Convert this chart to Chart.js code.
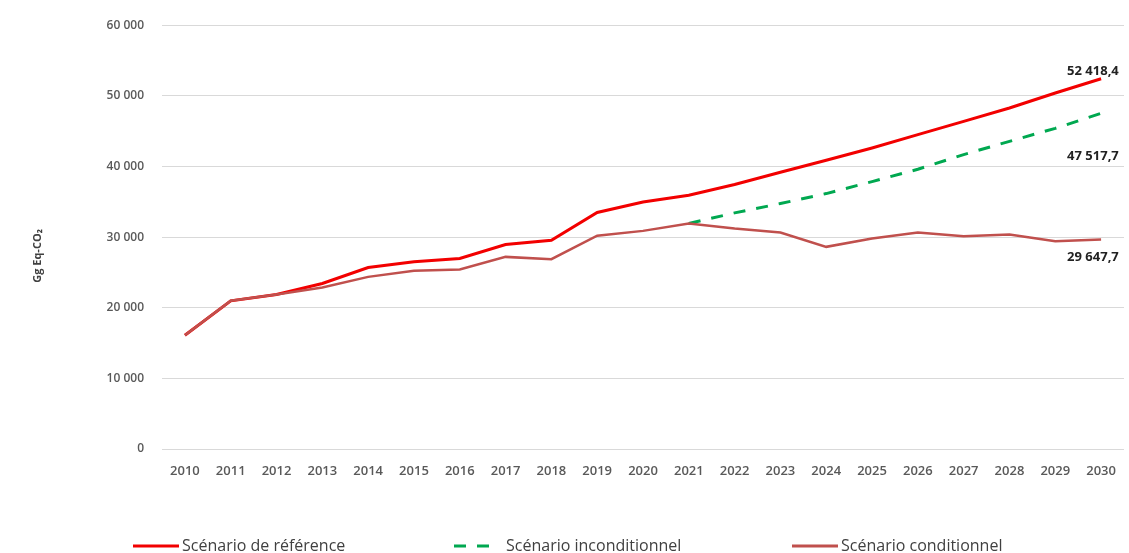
<!DOCTYPE html>
<html>
<head>
<meta charset="utf-8">
<script src="https://cdn.jsdelivr.net/npm/chart.js@4/dist/chart.umd.min.js"></script>
<style>
  html, body { margin: 0; padding: 0; background: #fff; }
  canvas { display: block; }
</style>
</head>
<body>
<canvas id="myChart" width="1129" height="553"></canvas>
<script>
const years = ['2010','2011','2012','2013','2014','2015','2016','2017','2018','2019','2020',
               '2021','2022','2023','2024','2025','2026','2027','2028','2029','2030'];

const reference = [16100, 20980, 21880, 23440, 25700, 26500, 26970, 28950, 29560, 33480, 34980,
                   35930, 37440, 39180, 40880, 42620, 44510, 46390, 48280, 50400, 52418.4];

const unconditional = [null, null, null, null, null, null, null, null, null, null, null,
                       31920, 33430, 34750, 36160, 37860, 39600, 41680, 43560, 45400, 47517.7];

const conditional = [16100, 20980, 21880, 22870, 24370, 25220, 25420, 27200, 26870, 30200, 30880,
                     31920, 31210, 30650, 28620, 29800, 30650, 30130, 30370, 29420, 29647.7];

const seriesNames = ['Scénario de référence', 'Scénario inconditionnel', 'Scénario conditionnel'];
const yTitle = 'Gg Eq-CO\u2082';

function fmtThousands(v) {
    return String(Math.round(v)).replace(/\B(?=(\d{3})+(?!\d))/g, ' ');
}
function fmtValue(v) {
    const parts = v.toFixed(1).split('.');
    return fmtThousands(Number(parts[0])) + ',' + parts[1];
}

// legend, end labels and axis title drawn on the canvas
const extras = {
    id: 'extras',
    afterDraw(chart) {
        const ctx = chart.ctx;
        ctx.save();

        // y axis title
        ctx.translate(38, 256);
        ctx.rotate(-Math.PI / 2);
        ctx.font = 'bold 11px "Open Sans"';
        ctx.fillStyle = '#404040';
        ctx.textAlign = 'center';
        ctx.textBaseline = 'middle';
        ctx.fillText(yTitle, 0, 0);
        ctx.setTransform(1, 0, 0, 1, 0, 0);

        // value labels at the last year
        const offsets = [-7, 43, 18];
        ctx.font = 'bold 13px "Open Sans"';
        ctx.fillStyle = '#222';
        ctx.textAlign = 'left';
        chart.data.datasets.forEach((ds, i) => {
            const meta = chart.getDatasetMeta(i);
            const last = meta.data[meta.data.length - 1];
            const v = ds.data[ds.data.length - 1];
            ctx.fillText(fmtValue(v), last.x - 34, last.y + offsets[i]);
        });

        // legend
        const legendX = [133, 454, 792];
        const legendY = 546;
        ctx.font = '16px "Open Sans"';
        ctx.textBaseline = 'middle';
        chart.data.datasets.forEach((ds, i) => {
            const x = legendX[i];
            ctx.strokeStyle = ds.borderColor;
            ctx.lineWidth = 3;
            ctx.setLineDash(ds.borderDash || []);
            ctx.beginPath();
            ctx.moveTo(x, legendY);
            ctx.lineTo(x + (ds.borderDash ? 36 : 46), legendY);
            ctx.stroke();
            ctx.setLineDash([]);
            ctx.fillStyle = '#404040';
            ctx.fillText(ds.label, x + (ds.borderDash ? 52 : 49), legendY);
        });
        ctx.restore();
    }
};

const ctx = document.getElementById('myChart').getContext('2d');
new Chart(ctx, {
    type: 'line',
    data: {
        labels: years,
        datasets: [
            {
                label: seriesNames[0],
                data: reference,
                borderColor: '#f20000',
                borderWidth: 3,
                order: 2
            },
            {
                label: seriesNames[1],
                data: unconditional,
                borderColor: '#00a850',
                borderWidth: 3,
                borderDash: [12, 11],
                order: 1
            },
            {
                label: seriesNames[2],
                data: conditional,
                borderColor: '#c0504d',
                borderWidth: 2.5,
                order: 0
            }
        ]
    },
    options: {
        responsive: false,
        animation: false,
        elements: {
            point: { radius: 0 },
            line: { tension: 0, fill: false }
        },
        layout: { padding: { top: 25, right: 5, left: 0, bottom: 0 } },
        plugins: {
            legend: { display: false },
            tooltip: { enabled: false }
        },
        scales: {
            x: {
                offset: true,
                grid: { display: false },
                border: { display: false },
                ticks: {
                    color: '#595959',
                    font: { family: 'Open Sans', size: 13, weight: '600' },
                    padding: 6,
                    maxRotation: 0,
                    autoSkip: false
                },
                afterFit(scale) { scale.height = 104; }
            },
            y: {
                min: 0,
                max: 60000,
                grid: { color: '#d9d9d9', lineWidth: 1, drawTicks: false },
                border: { display: false },
                ticks: {
                    stepSize: 10000,
                    color: '#595959',
                    font: { family: 'Open Sans', size: 12, weight: '600' },
                    padding: 18,
                    callback: v => fmtThousands(v)
                },
                afterFit(scale) { scale.width = 162; }
            }
        }
    },
    plugins: [extras]
});
</script>
</body>
</html>
